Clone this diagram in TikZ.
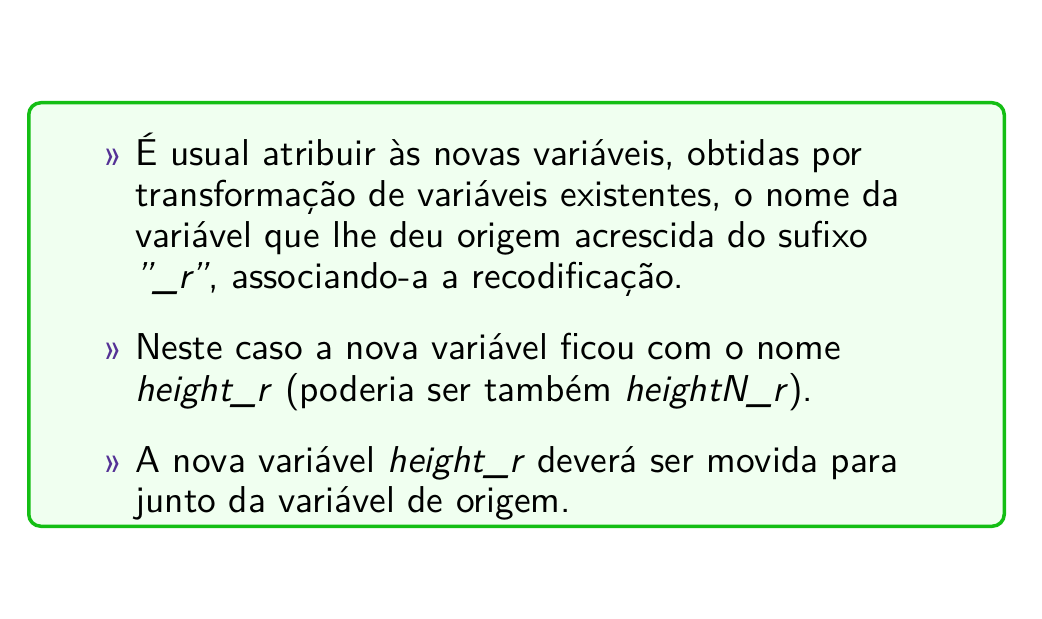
\documentclass[tikz,border=0pt]{standalone}
\usepackage{fontspec}
\newfontfamily\bodyfont{lmsans10-regular.otf}[ItalicFont=lmsans10-oblique.otf]
\definecolor{boxgreen}{RGB}{20,190,20}
\definecolor{boxfill}{RGB}{240,255,240}
\definecolor{bulletcol}{RGB}{85,50,150}
\begin{document}
\begin{tikzpicture}[x=0.5pt,y=-0.5pt,
  txt/.style={anchor=base west,inner sep=0pt,font=\bodyfont\fontsize{18.7}{20.5}\selectfont},
  bul/.style={anchor=base west,inner sep=0pt,text=bulletcol,font=\bodyfont\fontsize{18.7}{20.5}\selectfont}]
\useasboundingbox (0,0) rectangle (1042,619);
\draw[boxgreen,line width=1.75pt,fill=boxfill,rounded corners=6pt] (28.75,102.75) rectangle (1004.25,526.25);
\node[bul] (b1) at (104,166) {»};
\node[txt] (l1) at (135,166) {É usual atribuir às novas variáveis, obtidas por};
\node[txt] (l2) at (135,207) {transformação de variáveis existentes, o nome da};
\node[txt] (l3) at (135,248) {variável que lhe deu origem acrescida do sufixo};
\node[txt] (l4) at (135,289) {\textit{”\_r”}, associando-a a recodificação.};
\node[bul] (b2) at (104,360) {»};
\node[txt] (l5) at (135,360) {Neste caso a nova variável ficou com o nome};
\node[txt] (l6) at (135,401) {\textit{height\_r} (poderia ser também \textit{heightN\_r}).};
\node[bul] (b3) at (104,472) {»};
\node[txt] (l7) at (135,472) {A nova variável \textit{height\_r} deverá ser movida para};
\node[txt] (l8) at (135,512) {junto da variável de origem.};
\end{tikzpicture}
\end{document}
